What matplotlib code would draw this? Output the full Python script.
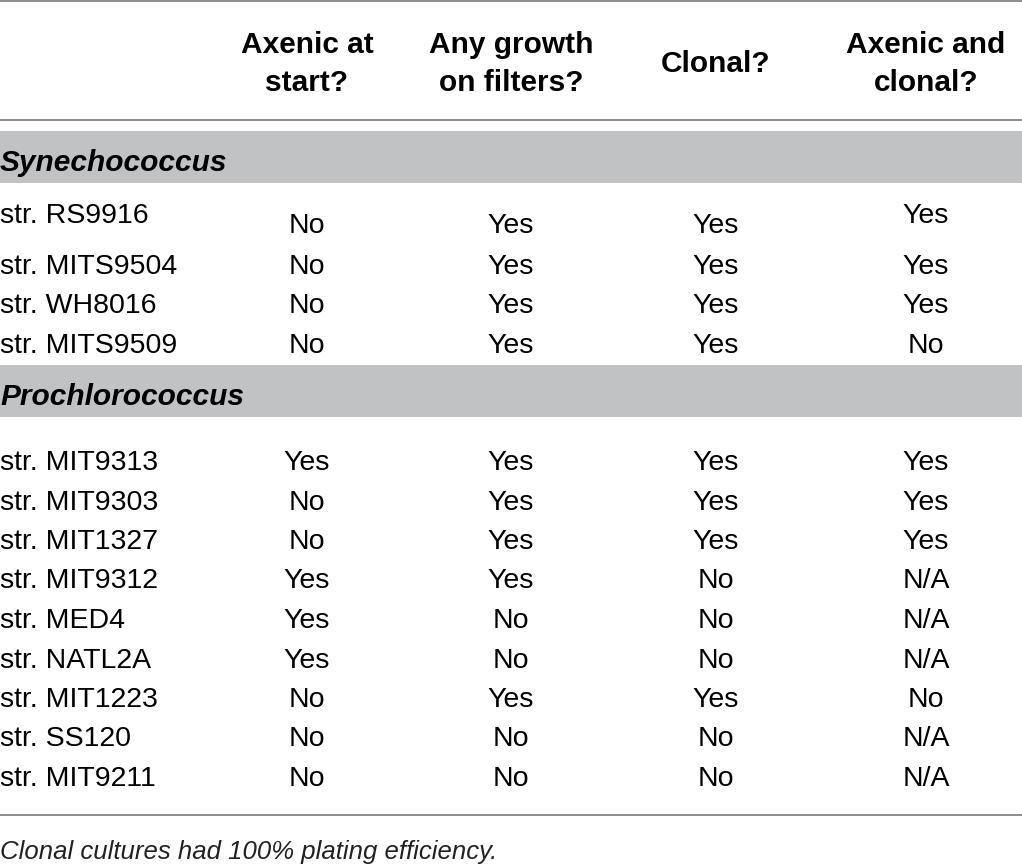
import matplotlib.pyplot as plt

plt.rcParams['font.family'] = ['Liberation Sans', 'DejaVu Sans']

HEADERS = ['Axenic at\nstart?', 'Any growth\non filters?', 'Clonal?', 'Axenic and\nclonal?']

SYN_STRAINS = ['str. RS9916', 'str. MITS9504', 'str. WH8016', 'str. MITS9509']
SYN_AXENIC = ['No', 'No', 'No', 'No']
SYN_GROWTH = ['Yes', 'Yes', 'Yes', 'Yes']
SYN_CLONAL = ['Yes', 'Yes', 'Yes', 'Yes']
SYN_BOTH = ['Yes', 'Yes', 'Yes', 'No']

PRO_STRAINS = ['str. MIT9313', 'str. MIT9303', 'str. MIT1327', 'str. MIT9312', 'str. MED4',
               'str. NATL2A', 'str. MIT1223', 'str. SS120', 'str. MIT9211']
PRO_AXENIC = ['Yes', 'No', 'No', 'Yes', 'Yes', 'Yes', 'No', 'No', 'No']
PRO_GROWTH = ['Yes', 'Yes', 'Yes', 'Yes', 'No', 'No', 'Yes', 'No', 'No']
PRO_CLONAL = ['Yes', 'Yes', 'Yes', 'No', 'No', 'No', 'Yes', 'No', 'No']
PRO_BOTH = ['Yes', 'Yes', 'Yes', 'N/A', 'N/A', 'N/A', 'No', 'N/A', 'N/A']

FOOTNOTE = 'Clonal cultures had 100% plating efficiency.'

W, H = 1022, 864
COL_X = [307, 511, 716, 926]
BAND = '#c1c2c4'
RULE = '#8c8c8c'
FS = 20.5
DY = 3  # nudge so caps sit where the reference has them

fig = plt.figure(figsize=(W / 100, H / 100), dpi=100)
ax = fig.add_axes([0, 0, 1, 1])
ax.set_xlim(0, W)
ax.set_ylim(H, 0)
ax.axis('off')

# rules
for y in [1, 120, 815]:
    ax.axhline(y, color=RULE, linewidth=1.4)

# header
for x, h in zip(COL_X, HEADERS):
    ax.text(x, 61 + DY, h, ha='center', va='center', fontsize=21.5, fontweight='bold',
            linespacing=1.45)


def group_block(name, band_top, strains, cols, row_y):
    ax.axhspan(band_top, band_top + 52, color=BAND, linewidth=0)
    ax.text(0, band_top + 29 + DY, name, ha='left', va='center', fontsize=21.5,
            fontweight='bold', style='italic')
    for i, strain in enumerate(strains):
        y = row_y[i] + DY
        ax.text(0, y, strain, ha='left', va='center', fontsize=FS)
        for j, col in enumerate(cols):
            yy = y
            # first Synechococcus row sits lower in the middle columns
            if name == 'Synechococcus' and i == 0 and j < 3:
                yy = y + 10
            ax.text(COL_X[j], yy, col[i], ha='center', va='center', fontsize=FS)


syn_y = [213, 264, 303, 343]
pro_y = [460 + 39.5 * k for k in range(len(PRO_STRAINS))]

group_block('Synechococcus', 131, SYN_STRAINS,
            [SYN_AXENIC, SYN_GROWTH, SYN_CLONAL, SYN_BOTH], syn_y)
group_block('Prochlorococcus', 365, PRO_STRAINS,
            [PRO_AXENIC, PRO_GROWTH, PRO_CLONAL, PRO_BOTH], pro_y)

ax.text(0, 849 + DY, FOOTNOTE, ha='left', va='center', fontsize=18.5, style='italic',
        color='#222222')

fig.savefig('out.png', dpi=100)
